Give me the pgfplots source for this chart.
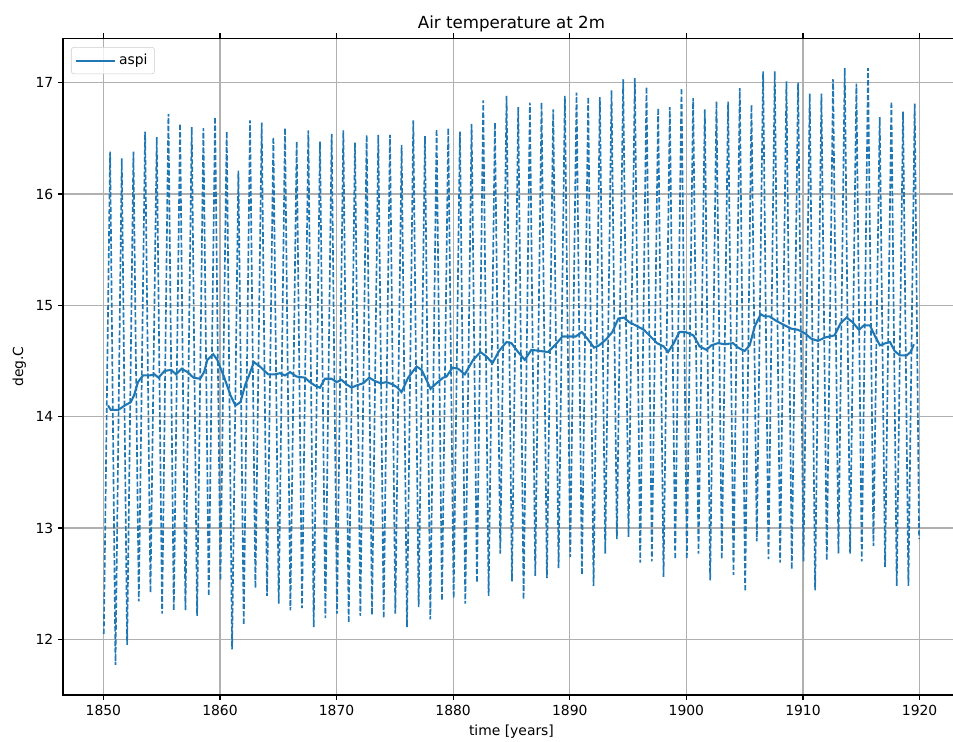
\documentclass[border=0pt]{standalone}
\usepackage{fontspec}
\setmainfont{DejaVu Sans}
\usepackage{pgfplots}
\pgfplotsset{compat=1.18}
\definecolor{mplblue}{HTML}{1F77B4}
\definecolor{mplgrid}{HTML}{B0B0B0}

% monthly series, Jan minimum and summer maximum of each year
\pgfplotstableread{
x y
1850.04 12.05
1850.58 16.38
1851.04 11.77
1851.58 16.32
1852.04 11.95
1852.58 16.38
1853.04 12.34
1853.58 16.56
1854.04 12.42
1854.58 16.51
1855.04 12.23
1855.58 16.72
1856.04 12.26
1856.58 16.63
1857.04 12.26
1857.58 16.60
1858.04 12.21
1858.58 16.59
1859.04 12.39
1859.58 16.69
1860.04 12.53
1860.58 16.56
1861.04 11.91
1861.58 16.21
1862.04 12.13
1862.58 16.66
1863.04 12.46
1863.58 16.64
1864.04 12.39
1864.58 16.51
1865.04 12.32
1865.58 16.59
1866.04 12.26
1866.58 16.47
1867.04 12.28
1867.58 16.57
1868.04 12.11
1868.58 16.47
1869.04 12.19
1869.58 16.54
1870.04 12.23
1870.58 16.57
1871.04 12.15
1871.58 16.46
1872.04 12.21
1872.58 16.53
1873.04 12.22
1873.58 16.53
1874.04 12.19
1874.58 16.53
1875.04 12.23
1875.58 16.44
1876.04 12.11
1876.58 16.66
1877.04 12.29
1877.58 16.52
1878.04 12.18
1878.58 16.58
1879.04 12.35
1879.58 16.59
1880.04 12.37
1880.58 16.56
1881.04 12.32
1881.58 16.63
1882.04 12.51
1882.58 16.84
1883.04 12.39
1883.58 16.64
1884.04 12.77
1884.58 16.88
1885.04 12.52
1885.58 16.78
1886.04 12.36
1886.58 16.82
1887.04 12.57
1887.58 16.82
1888.04 12.55
1888.58 16.76
1889.04 12.64
1889.58 16.88
1890.04 12.74
1890.58 16.91
1891.04 12.58
1891.58 16.87
1892.04 12.48
1892.58 16.87
1893.04 12.77
1893.58 16.93
1894.04 12.90
1894.58 17.03
1895.04 12.92
1895.58 17.04
1896.04 12.69
1896.58 16.96
1897.04 12.70
1897.58 16.77
1898.04 12.56
1898.58 16.78
1899.04 12.72
1899.58 16.95
1900.04 12.72
1900.58 16.86
1901.04 12.77
1901.58 16.76
1902.04 12.53
1902.58 16.83
1903.04 12.72
1903.58 16.83
1904.04 12.58
1904.58 16.95
1905.04 12.43
1905.58 16.80
1906.04 12.88
1906.58 17.10
1907.04 12.72
1907.58 17.10
1908.04 12.69
1908.58 17.01
1909.04 12.63
1909.58 17.00
1910.04 12.70
1910.58 16.90
1911.04 12.44
1911.58 16.90
1912.04 12.71
1912.58 17.03
1913.04 12.77
1913.58 17.13
1914.04 12.77
1914.58 16.99
1915.04 12.70
1915.58 17.13
1916.04 12.84
1916.58 16.69
1917.04 12.65
1917.58 16.83
1918.04 12.48
1918.58 16.74
1919.04 12.48
1919.58 16.81
1919.96 12.90
}\monthly

% running mean
\pgfplotstableread{
x y
1850.40 14.10
1850.65 14.06
1851.27 14.06
1851.84 14.10
1852.35 14.13
1852.63 14.19
1852.97 14.31
1853.40 14.37
1853.97 14.37
1854.39 14.38
1854.73 14.35
1855.24 14.41
1855.81 14.42
1856.23 14.38
1856.71 14.43
1857.22 14.40
1857.73 14.35
1858.30 14.34
1858.64 14.40
1858.92 14.51
1859.43 14.56
1859.77 14.51
1860.34 14.36
1860.91 14.19
1861.33 14.10
1861.76 14.13
1862.18 14.29
1862.46 14.36
1862.91 14.49
1863.43 14.45
1864.14 14.38
1864.71 14.38
1865.14 14.39
1865.57 14.37
1866.00 14.40
1866.57 14.36
1867.29 14.35
1867.71 14.31
1868.14 14.28
1868.57 14.26
1869.00 14.34
1869.57 14.34
1870.00 14.31
1870.43 14.33
1870.86 14.29
1871.29 14.26
1871.71 14.28
1872.29 14.30
1872.80 14.35
1873.29 14.32
1873.77 14.30
1874.29 14.31
1874.80 14.29
1875.23 14.26
1875.57 14.22
1876.14 14.35
1876.86 14.45
1877.29 14.42
1877.71 14.33
1878.06 14.25
1878.57 14.30
1879.14 14.35
1879.43 14.36
1879.94 14.44
1880.43 14.43
1881.00 14.38
1881.71 14.51
1882.34 14.58
1882.86 14.54
1883.37 14.48
1883.94 14.59
1884.57 14.67
1885.00 14.66
1885.57 14.58
1886.14 14.51
1886.71 14.60
1887.43 14.59
1888.14 14.58
1888.80 14.65
1889.37 14.72
1889.94 14.72
1890.51 14.72
1891.03 14.76
1891.51 14.70
1892.08 14.62
1892.51 14.64
1893.08 14.69
1893.65 14.76
1894.16 14.88
1894.64 14.89
1895.07 14.85
1895.64 14.82
1896.35 14.78
1896.92 14.72
1897.49 14.66
1898.06 14.63
1898.43 14.58
1898.92 14.66
1899.40 14.76
1899.91 14.76
1900.60 14.73
1901.14 14.63
1901.71 14.60
1902.14 14.64
1902.71 14.66
1903.29 14.65
1904.00 14.66
1904.43 14.62
1905.00 14.59
1905.43 14.64
1905.86 14.81
1906.37 14.92
1906.71 14.90
1907.14 14.90
1907.71 14.86
1908.43 14.82
1909.00 14.79
1909.57 14.78
1910.14 14.75
1910.71 14.70
1911.29 14.68
1911.86 14.71
1912.71 14.73
1913.23 14.84
1913.74 14.89
1914.23 14.85
1914.80 14.78
1915.23 14.82
1915.74 14.82
1916.14 14.73
1916.60 14.64
1917.09 14.66
1917.46 14.67
1917.86 14.59
1918.31 14.55
1918.89 14.55
1919.23 14.58
1919.51 14.65
}\runmean

\begin{document}
\begin{tikzpicture}
\begin{axis}[
    name=ax,
    scale only axis,
    width=645.8pt, height=473.0pt,
    xmin=1846.54, xmax=1923.46,
    ymin=11.50, ymax=17.40,
    xtick={1850,1860,...,1920},
    ytick={12,13,...,17},
    /pgf/number format/assume math mode=true,
    /pgf/number format/1000 sep={},
    tick align=outside,
    major tick length=3.5pt,
    tick style={black, line width=0.8pt},
    axis line style={line width=0.8pt},
    grid=major,
    major grid style={mplgrid, line width=0.8pt},
    ticklabel style={font=\fontsize{10}{12}\selectfont},
    title={Air temperature at 2m},
    title style={font=\fontsize{12}{14.4}\selectfont, inner sep=0pt, yshift=-2pt},
    xlabel={time [years]},
    ylabel={deg.C},
    label style={font=\fontsize{10}{12}\selectfont},
    legend style={at={(0.0089,0.9863)}, anchor=north west,
        draw=black!20, rounded corners=2pt, fill=white, fill opacity=0.8,
        text opacity=1, inner xsep=3pt, inner ysep=3pt,
        font=\fontsize{10}{12}\selectfont},
    legend image code/.code={\draw[#1] (0pt,0pt) -- (22pt,0pt);
        \path (0pt,0pt) -- (28pt,0pt);},
    legend cell align=left,
]
\addplot[mplblue, line width=1.2pt, dash pattern=on 3.7pt off 1.6pt, forget plot] table {\monthly};
\addplot[mplblue, line width=1.5pt] table {\runmean};
\addlegendentry{aspi}
\end{axis}
\pgfresetboundingbox
\path[use as bounding box] (ax.south west) ++(-45.36pt,-33.12pt) rectangle ++(686.16pt,533.52pt);
\end{tikzpicture}
\end{document}
